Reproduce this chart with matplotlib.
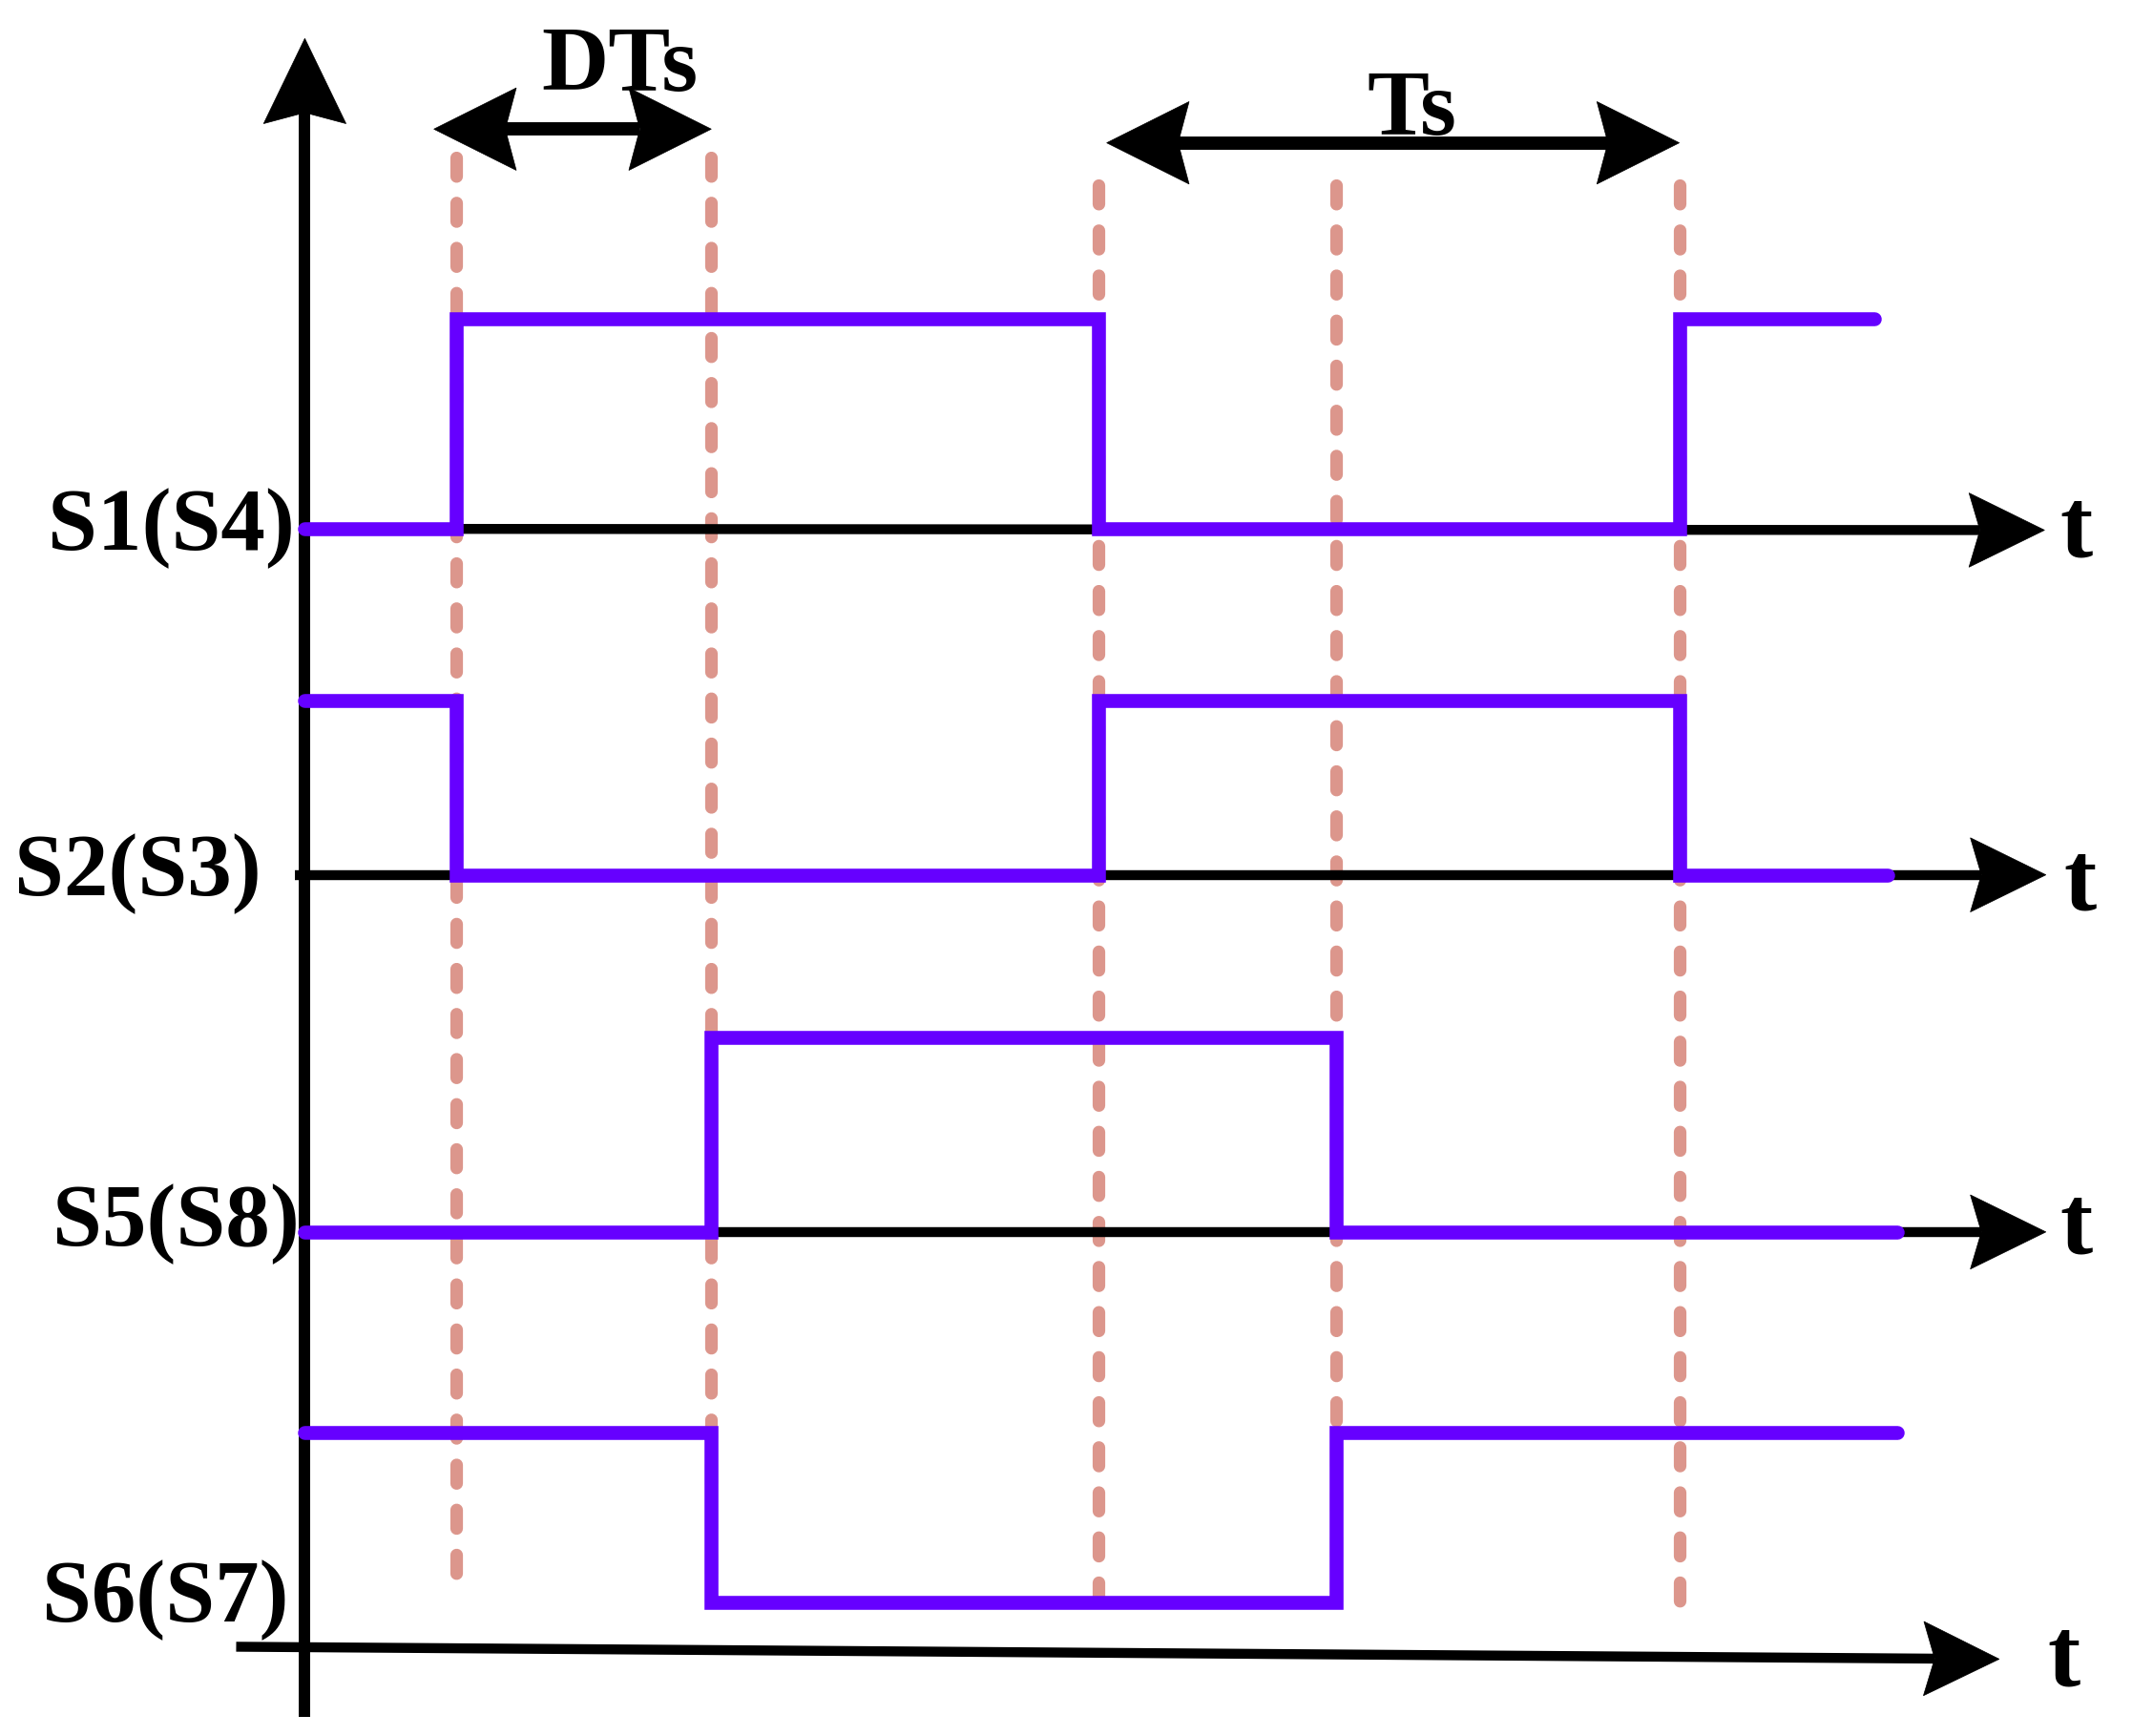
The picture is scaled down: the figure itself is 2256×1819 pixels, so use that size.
import numpy as np
import matplotlib.pyplot as plt
from matplotlib.patches import Polygon

plt.rcParams['font.family'] = ['Liberation Serif', 'DejaVu Serif']
plt.rcParams['lines.scale_dashes'] = False

# switching instants (x position along the time axis) and levels
switch_t = [332, 518, 800, 973, 1223]
dash_top = [115, 115, 135, 135, 135]
dash_bottom = [1160, 1165, 1165, 1165, 1170]

row_names = ['S1(S4)', 'S2(S3)', 'S5(S8)', 'S6(S7)']
row_low = [385, 637, 897, 1167]
row_high = [232, 510, 755, 1043]

s14_t = [222, 332, 800, 1223, 1365]
s14_v = [0, 1, 0, 1, 1]
s23_t = [222, 332, 800, 1223, 1375]
s23_v = [1, 0, 1, 0, 0]
s58_t = [222, 518, 973, 1382]
s58_v = [0, 1, 0, 0]
s67_t = [222, 518, 973, 1382]
s67_v = [1, 0, 1, 1]
signals = [(s14_t, s14_v), (s23_t, s23_v), (s58_t, s58_v), (s67_t, s67_v)]

# time axes of each row: start (x, y), arrow tip (x, y)
axis_start = [(222, 385), (215, 637), (222, 897), (172, 1199)]
axis_tip = [(1489, 386), (1490, 637), (1490, 897), (1456, 1208)]
t_label_pos = [(1500, 405), (1503, 662), (1500, 912), (1491, 1227)]
name_pos = [(215, 400), (190, 652), (218, 907), (210, 1181)]

purple = '#6600ff'
pink = '#dc968c'

fig = plt.figure(figsize=(22.56, 18.19), dpi=100)
ax = fig.add_axes([0, 0, 1, 1])
ax.set_xlim(0, 1568)
ax.set_ylim(1264, 0)
ax.axis('off')


def arrow_head(ax, tip, direction, length, half_w, notch=8):
    d = np.array(direction, dtype=float)
    d /= np.hypot(*d)
    p = np.array([-d[1], d[0]])
    tip = np.array(tip, dtype=float)
    back = tip - length * d
    pts = [tip, back + half_w * p, tip - (length - notch) * d, back - half_w * p]
    ax.add_patch(Polygon(pts, closed=True, facecolor='black', edgecolor='black',
                         linewidth=0.5, zorder=5))
    return tip - (length - notch) * d


# dashed guides
for x, y0, y1 in zip(switch_t, dash_top, dash_bottom):
    ax.plot([x, x], [y0, y1], color=pink, lw=9.5, dashes=(14, 20),
            dash_capstyle='round', zorder=1)

# vertical axis
base = arrow_head(ax, (222, 28), (0, -1), 62, 30)
ax.plot([222, 222], [1250, base[1]], color='black', lw=8.6, zorder=2,
        solid_capstyle='butt')

# time axes
for (x0, y0), (x1, y1), (tx, ty) in zip(axis_start, axis_tip, t_label_pos):
    end = arrow_head(ax, (x1, y1), (x1 - x0, y1 - y0), 55, 27)
    ax.plot([x0, end[0]], [y0, end[1]], color='black', lw=7.5, zorder=2,
            solid_capstyle='butt')
    ax.text(tx, ty, 't', fontsize=74, fontweight='bold', ha='left',
            va='baseline')

# switching waveforms
for (t, v), lo, hi, name, (nx, ny) in zip(signals, row_low, row_high,
                                           row_names, name_pos):
    y = [lo + vi * (hi - lo) for vi in v]
    ax.plot(t, y, drawstyle='steps-post', color=purple, lw=10.5, zorder=3,
            solid_joinstyle='miter', solid_capstyle='round')
    ax.text(nx, ny, name, fontsize=67, fontweight='bold', ha='right',
            va='baseline')

# DTs and Ts interval arrows
for (xl, xr, y, label, lx, ly) in [(316, 518, 94, 'DTs', 451, 66),
                                   (806, 1223, 104, 'Ts', 1028, 98)]:
    a = arrow_head(ax, (xl, y), (-1, 0), 60, 30)
    b = arrow_head(ax, (xr, y), (1, 0), 60, 30)
    ax.plot([a[0], b[0]], [y, y], color='black', lw=10, zorder=4,
            solid_capstyle='butt')
    ax.text(lx, ly, label, fontsize=70, fontweight='bold', ha='center',
            va='baseline')

fig.savefig('out.png', dpi=100)
